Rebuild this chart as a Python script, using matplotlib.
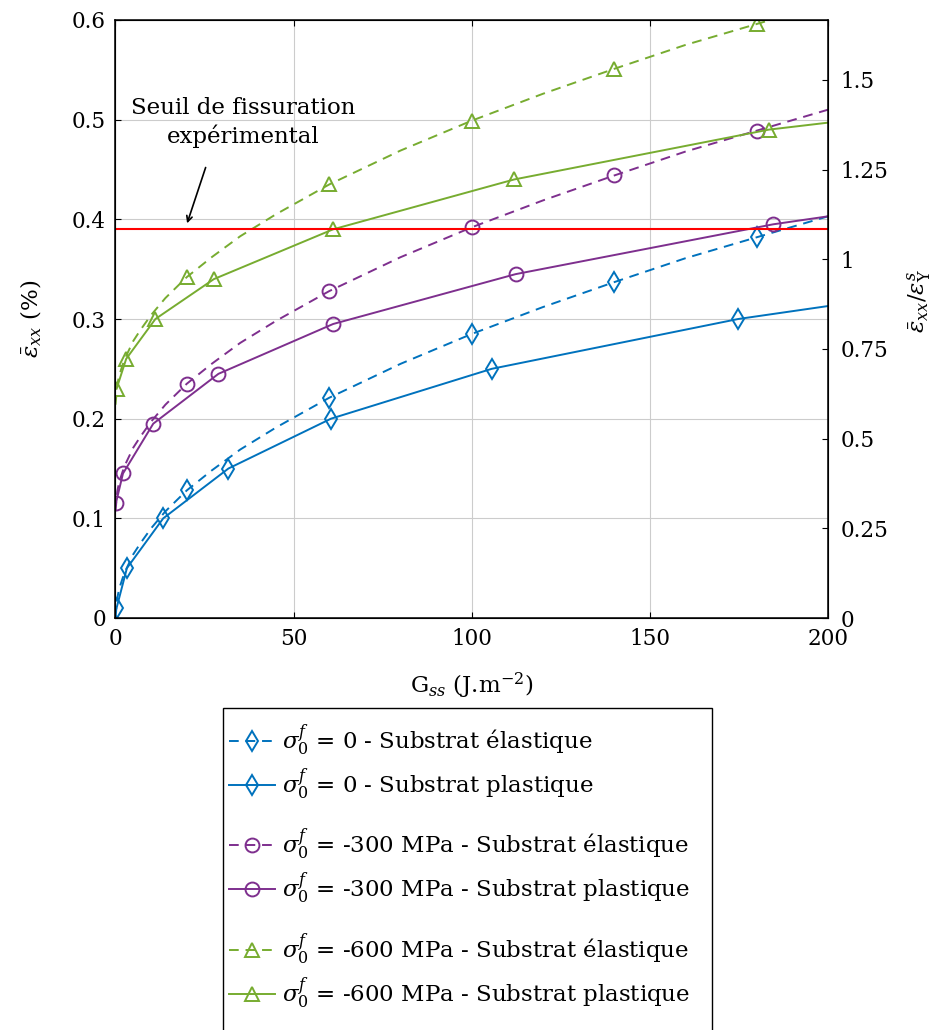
import numpy as np
import matplotlib
matplotlib.use('Agg')
import matplotlib.pyplot as plt
from matplotlib.patches import Rectangle

plt.rcParams['font.family'] = ['DejaVu Serif']
plt.rcParams['mathtext.fontset'] = 'dejavuserif'

# --- data ---
# elastic substrate (dashed), markers at G = 20, 60, 100, 140, 180
g_el = [0, 0.5, 1, 2, 3, 5, 7, 10, 14, 20, 27, 35, 45, 60, 80, 100, 120, 140, 160, 180, 200]
el_0 = [0, 0.020, 0.029, 0.040, 0.049, 0.064, 0.075, 0.090, 0.107, 0.128, 0.148, 0.169, 0.191,
        0.221, 0.255, 0.285, 0.312, 0.337, 0.361, 0.382, 0.403]
el_300 = [0.107, 0.127, 0.136, 0.147, 0.156, 0.171, 0.182, 0.197, 0.214, 0.235, 0.255, 0.276, 0.298,
          0.328, 0.362, 0.392, 0.419, 0.444, 0.468, 0.489, 0.510]
el_600 = [0.214, 0.234, 0.243, 0.254, 0.263, 0.278, 0.289, 0.304, 0.321, 0.342, 0.362, 0.383, 0.405,
          0.435, 0.469, 0.499, 0.526, 0.551, 0.575, 0.596, 0.617]
el_marks = [9, 13, 15, 17, 19]

# plastic substrate (solid)
g_pl_0 = [0.3, 3.2, 13.4, 31.7, 60.5, 105.6, 174.8, 200]
pl_0 = [0.010, 0.050, 0.100, 0.150, 0.200, 0.250, 0.300, 0.313]
g_pl_300 = [0.1, 2.1, 10.6, 28.9, 61.1, 112.3, 184.6, 200]
pl_300 = [0.115, 0.145, 0.195, 0.245, 0.295, 0.345, 0.395, 0.403]
g_pl_600 = [0.3, 3.0, 11.2, 27.6, 61.1, 111.9, 183.4, 200]
pl_600 = [0.230, 0.260, 0.300, 0.340, 0.390, 0.440, 0.490, 0.497]
pl_marks = list(range(7))

seuil = 0.39
eps_y = 0.36  # right axis = left / eps_y

blue, purple, green = '#0072BD', '#7E2F8E', '#77AC30'
dash = (0, (5, 3.5))

fig = plt.figure(figsize=(9.37, 10.30), dpi=100)
ax = fig.add_axes([115.5 / 937, 1 - 618 / 1030, (828 - 115.5) / 937, (618 - 20) / 1030])

mk = dict(markerfacecolor='none', markersize=10, markeredgewidth=1.4, lw=1.4)
h1, = ax.plot(g_el, el_0, color=blue, ls=dash, marker='d', markevery=el_marks, **mk)
h2, = ax.plot(g_pl_0, pl_0, color=blue, ls='-', marker='d', markevery=pl_marks, **mk)
h3, = ax.plot(g_el, el_300, color=purple, ls=dash, marker='o', markevery=el_marks, **mk)
h4, = ax.plot(g_pl_300, pl_300, color=purple, ls='-', marker='o', markevery=pl_marks, **mk)
h5, = ax.plot(g_el, el_600, color=green, ls=dash, marker='^', markevery=el_marks, **mk)
h6, = ax.plot(g_pl_600, pl_600, color=green, ls='-', marker='^', markevery=pl_marks, **mk)
ax.axhline(seuil, color='#FF0000', lw=1.5)

ax.text(35.8, 0.497, 'Seuil de fissuration\nexpérimental', fontsize=16.5, ha='center',
        va='center', linespacing=1.3)
ax.annotate('', xy=(20.1, 0.396), xytext=(25.3, 0.452),
            arrowprops=dict(arrowstyle='->', color='black', lw=1.2, shrinkA=0, shrinkB=0))

ax.set_xlim(0, 200)
ax.set_ylim(0, 0.6)
ax.set_xticks([0, 50, 100, 150, 200])
ax.set_xticklabels(['0', '50', '100', '150', '200'])
ax.set_yticks([0, 0.1, 0.2, 0.3, 0.4, 0.5, 0.6])
ax.set_yticklabels(['0', '0.1', '0.2', '0.3', '0.4', '0.5', '0.6'])
ax.grid(True, color='#cccccc', lw=0.8)
ax.set_axisbelow(True)
ax.tick_params(direction='in', length=4, top=True, right=False, labelsize=15.5, pad=7)
for s in ax.spines.values():
    s.set_linewidth(1.1)
ax.set_xlabel(r'G$_{ss}$ (J.m$^{-2}$)', fontsize=16.5, labelpad=15)
ax.set_ylabel(r'$\bar{\varepsilon}_{xx}$ (%)', fontsize=16.5, labelpad=20)

ax2 = ax.twinx()
ax2.set_ylim(0, 0.6 / eps_y)
ax2.set_yticks([0, 0.25, 0.5, 0.75, 1, 1.25, 1.5])
ax2.set_yticklabels(['0', '0.25', '0.5', '0.75', '1', '1.25', '1.5'])
ax2.tick_params(direction='in', length=4, labelsize=15.5, pad=9)
ax2.set_ylabel(r'$\bar{\varepsilon}_{xx}/\varepsilon_{\mathrm{Y}}^{s}$', fontsize=16.5)
ax2.yaxis.set_label_coords(1.108, 0.53)

labels = [r'$\sigma_0^f$ = 0 - Substrat élastique',
          r'$\sigma_0^f$ = 0 - Substrat plastique',
          r'$\sigma_0^f$ = -300 MPa - Substrat élastique',
          r'$\sigma_0^f$ = -300 MPa - Substrat plastique',
          r'$\sigma_0^f$ = -600 MPa - Substrat élastique',
          r'$\sigma_0^f$ = -600 MPa - Substrat plastique']
handles = [h1, h2, h3, h4, h5, h6]
centers = [762, 866.5, 971]
for i, yc in enumerate(centers):
    fig.legend(handles[2 * i:2 * i + 2], labels[2 * i:2 * i + 2], loc='center left',
               bbox_to_anchor=(229 / 937, 1 - yc / 1030), frameon=False, fontsize=16.5,
               handlelength=2.0, handletextpad=0.3, labelspacing=0.35, borderpad=0,
               borderaxespad=0, numpoints=1)
fig.add_artist(Rectangle((223 / 937, -0.01), (712 - 223) / 937, 1 - 708 / 1030 + 0.01,
                         transform=fig.transFigure, fill=False, lw=1.0, edgecolor='black'))

fig.savefig('out.png', dpi=100)
